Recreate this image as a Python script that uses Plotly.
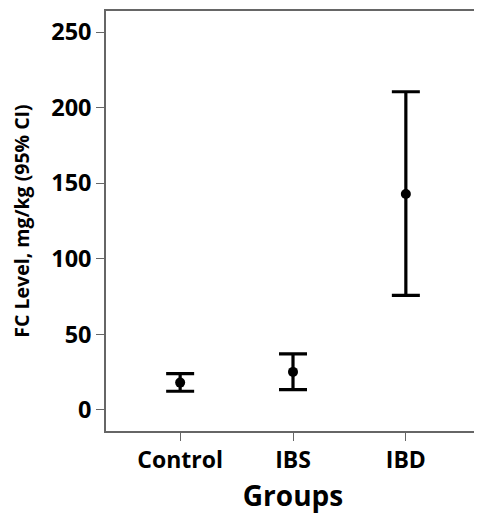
import plotly.graph_objects as go

groups = ["Control", "IBS", "IBD"]
means = [18.1, 25.2, 142.9]
upper = [24.1, 37.1, 210.5]
lower = [12.4, 13.5, 75.8]

err_plus = [u - m for u, m in zip(upper, means)]
err_minus = [m - l for m, l in zip(means, lower)]

fig = go.Figure()
fig.add_trace(go.Scatter(
    x=[0, 1, 2], y=means, mode="markers",
    marker=dict(color="black", size=10, symbol="circle"),
    error_y=dict(type="data", symmetric=False, array=err_plus, arrayminus=err_minus,
                 color="black", thickness=3.2, width=14),
    showlegend=False,
))

font_family = "Open Sans, DejaVu Sans, sans-serif"
# page body has a default 8px margin, so the figure is sized to fit the window
fig.update_layout(
    width=474, height=506,
    margin=dict(l=98, r=2, t=3, b=83),
    paper_bgcolor="white", plot_bgcolor="white",
    font=dict(family=font_family, color="black"),
)
fig.update_xaxes(
    range=[-0.657, 2.657], automargin=False,
    tickmode="array", tickvals=[0, 1, 2], ticktext=groups,
    tickfont=dict(size=23, family=font_family, weight="bold"),
    ticks="outside", ticklen=8, tickcolor="#666", tickwidth=1,
    showline=True, linecolor="#666", linewidth=1.5, mirror=True,
    showgrid=False, zeroline=False,
    title=dict(text="<b>Groups</b>", font=dict(size=28), standoff=18),
)
fig.update_yaxes(
    range=[-13.9, 263.9], automargin=False,
    tickvals=[0, 50, 100, 150, 200, 250],
    tickfont=dict(size=23.5, family=font_family, weight="bold"),
    ticks="outside", ticklen=8, tickcolor="#666", tickwidth=1,
    showline=True, linecolor="#666", linewidth=1.5, mirror=False,
    showgrid=False, zeroline=False,
    title=dict(text="<b>FC Level, mg/kg (95% CI)</b>", font=dict(size=19.5), standoff=16),
)

fig.write_html("out.html")
